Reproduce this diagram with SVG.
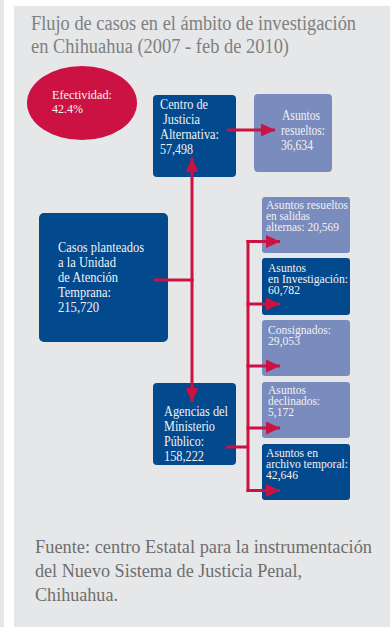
<svg xmlns="http://www.w3.org/2000/svg" width="390" height="627" viewBox="0 0 390 627">
<defs>
<style>
.t{font-family:"Liberation Serif","Times New Roman",serif;fill:#f2f2f2}
.b{font-size:14px}
.s{font-size:13px}
.r{font-size:12px}
.dark{fill:#02498e}
.light{fill:#7a8bbe}
.ln{stroke:#cc1242;stroke-width:3;fill:none}
.gr{font-family:"Liberation Serif","Times New Roman",serif}
</style>
<marker id="ah" markerUnits="userSpaceOnUse" markerWidth="14" markerHeight="13" refX="14" refY="6.5" orient="auto">
<path d="M0,0 L14,6.5 L0,13 z" fill="#cc1242"/>
</marker>
</defs>
<rect width="390" height="627" fill="#ffffff"/>
<rect x="0" y="0" width="4" height="627" fill="#e6e7e9"/>
<rect x="14" y="6" width="376" height="621" fill="#e6e7e9"/>
<g id="title" class="gr" fill="#808080" font-size="20">
<text x="31" y="30" textLength="325" lengthAdjust="spacingAndGlyphs">Flujo de casos en el ámbito de investigación</text>
<text x="31" y="53" textLength="258" lengthAdjust="spacingAndGlyphs">en Chihuahua (2007 - feb de 2010)</text>
</g>
<g id="efectividad">
<ellipse cx="82" cy="103" rx="55" ry="37" fill="#cc1242"/>
<text class="t s" x="52" y="99" textLength="60" lengthAdjust="spacingAndGlyphs">Efectividad:</text>
<text class="t s" x="52" y="113" textLength="31" lengthAdjust="spacingAndGlyphs">42.4%</text>
</g>
<g id="centro">
<rect class="dark" x="153" y="95" width="83" height="82" rx="4"/>
<text class="t b" x="160" y="109" textLength="48" lengthAdjust="spacingAndGlyphs">Centro de</text>
<text class="t b" x="163" y="124" textLength="37" lengthAdjust="spacingAndGlyphs">Justicia</text>
<text class="t b" x="160" y="139" textLength="59" lengthAdjust="spacingAndGlyphs">Alternativa:</text>
<text class="t b" x="160" y="154" textLength="33" lengthAdjust="spacingAndGlyphs">57,498</text>
</g>
<g id="resueltos">
<rect class="light" x="254" y="94" width="78" height="78" rx="4"/>
<text class="t b" x="282" y="120" textLength="38" lengthAdjust="spacingAndGlyphs">Asuntos</text>
<text class="t b" x="281" y="135" textLength="44" lengthAdjust="spacingAndGlyphs">resueltos:</text>
<text class="t b" x="281" y="150" textLength="32" lengthAdjust="spacingAndGlyphs">36,634</text>
</g>
<g id="casos">
<rect class="dark" x="39" y="213" width="129" height="129" rx="5"/>
<text class="t b" x="58" y="252" textLength="86" lengthAdjust="spacingAndGlyphs">Casos planteados</text>
<text class="t b" x="58" y="267" textLength="58" lengthAdjust="spacingAndGlyphs">a la Unidad</text>
<text class="t b" x="58" y="282" textLength="60" lengthAdjust="spacingAndGlyphs">de Atención</text>
<text class="t b" x="58" y="297" textLength="53" lengthAdjust="spacingAndGlyphs">Temprana:</text>
<text class="t b" x="58" y="312" textLength="41" lengthAdjust="spacingAndGlyphs">215,720</text>
</g>
<g id="agencias">
<rect class="dark" x="153" y="383" width="83" height="82" rx="4"/>
<text class="t b" x="164" y="416" textLength="64" lengthAdjust="spacingAndGlyphs">Agencias del</text>
<text class="t b" x="164" y="431" textLength="51" lengthAdjust="spacingAndGlyphs">Ministerio</text>
<text class="t b" x="164" y="446" textLength="40" lengthAdjust="spacingAndGlyphs">Público:</text>
<text class="t b" x="164" y="461" textLength="40" lengthAdjust="spacingAndGlyphs">158,222</text>
</g>
<g id="salidas">
<rect class="light" x="262" y="197" width="88" height="56" rx="3"/>
<text class="t r" x="266" y="209" textLength="82" lengthAdjust="spacingAndGlyphs">Asuntos resueltos</text>
<text class="t r" x="266" y="220" textLength="44" lengthAdjust="spacingAndGlyphs">en salidas</text>
<text class="t r" x="266" y="231" textLength="73" lengthAdjust="spacingAndGlyphs">alternas: 20,569</text>
</g>
<g id="investigacion">
<rect class="dark" x="262" y="258" width="88" height="57" rx="3"/>
<text class="t r" x="268" y="272" textLength="38" lengthAdjust="spacingAndGlyphs">Asuntos</text>
<text class="t r" x="268" y="283" textLength="80" lengthAdjust="spacingAndGlyphs">en Investigación:</text>
<text class="t r" x="268" y="294" textLength="32" lengthAdjust="spacingAndGlyphs">60,782</text>
</g>
<g id="consignados">
<rect class="light" x="262" y="320" width="88" height="56" rx="3"/>
<text class="t r" x="268" y="334" textLength="63" lengthAdjust="spacingAndGlyphs">Consignados:</text>
<text class="t r" x="268" y="345" textLength="32" lengthAdjust="spacingAndGlyphs">29,053</text>
</g>
<g id="declinados">
<rect class="light" x="262" y="382" width="88" height="56" rx="3"/>
<text class="t r" x="268" y="394" textLength="38" lengthAdjust="spacingAndGlyphs">Asuntos</text>
<text class="t r" x="268" y="405" textLength="52" lengthAdjust="spacingAndGlyphs">declinados:</text>
<text class="t r" x="268" y="416" textLength="26" lengthAdjust="spacingAndGlyphs">5,172</text>
</g>
<g id="archivo">
<rect class="dark" x="262" y="444" width="88" height="56" rx="3"/>
<text class="t r" x="266" y="457" textLength="52" lengthAdjust="spacingAndGlyphs">Asuntos en</text>
<text class="t r" x="266" y="468" textLength="82" lengthAdjust="spacingAndGlyphs">archivo temporal:</text>
<text class="t r" x="266" y="479" textLength="32" lengthAdjust="spacingAndGlyphs">42,646</text>
</g>
<g id="connectors">
<line class="ln" x1="154" y1="280" x2="193.5" y2="280"/>
<line class="ln" x1="192" y1="281" x2="192" y2="158" marker-end="url(#ah)"/>
<line class="ln" x1="192" y1="279" x2="192" y2="402" marker-end="url(#ah)"/>
<line class="ln" x1="227" y1="130" x2="275" y2="130" marker-end="url(#ah)"/>
<line class="ln" x1="226" y1="447" x2="248" y2="447"/>
<line class="ln" x1="248" y1="240" x2="248" y2="492"/>
<line class="ln" x1="246.5" y1="241.5" x2="280" y2="241.5" marker-end="url(#ah)"/>
<line class="ln" x1="246.5" y1="304" x2="280" y2="304" marker-end="url(#ah)"/>
<line class="ln" x1="246.5" y1="366" x2="280" y2="366" marker-end="url(#ah)"/>
<line class="ln" x1="246.5" y1="428" x2="280" y2="428" marker-end="url(#ah)"/>
<line class="ln" x1="246.5" y1="490.5" x2="280" y2="490.5" marker-end="url(#ah)"/>
</g>
<g id="fuente" class="gr" fill="#6e6e6e" font-size="19">
<text x="35" y="553" textLength="337" lengthAdjust="spacingAndGlyphs">Fuente: centro Estatal para la instrumentación</text>
<text x="35" y="577" textLength="267" lengthAdjust="spacingAndGlyphs">del Nuevo Sistema de Justicia Penal,</text>
<text x="35" y="601" textLength="83" lengthAdjust="spacingAndGlyphs">Chihuahua.</text>
</g>
</svg>
